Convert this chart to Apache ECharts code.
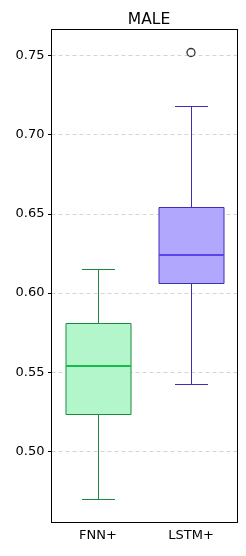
<!DOCTYPE html>
<html><head><meta charset="utf-8">
<script src="https://cdn.jsdelivr.net/npm/echarts@6/dist/echarts.min.js"></script>
<style>html,body{margin:0;padding:0;background:#fff}#c{width:246px;height:556px}</style>
</head><body><div id="c"></div>
<script>
const categories = ['FNN+', 'LSTM+'];
const whiskerLow = [0.4695, 0.5425];
const q1 = [0.5232, 0.6063];
const median = [0.5540, 0.6240];
const q3 = [0.5806, 0.6537];
const whiskerHigh = [0.6151, 0.7178];
const outliers = [[1, 0.7517]];
const yTicks = [0.50, 0.55, 0.60, 0.65, 0.70, 0.75];
const fills = ['#b4f6cc', '#b1a7fd'];
const edges = ['#1b8a3c', '#3b2fb3'];
const medians = ['#1dba4b', '#5846e6'];

const boxData = categories.map((c, i) => [i, whiskerLow[i], q1[i], median[i], q3[i], whiskerHigh[i]]);
const font = 'DejaVu Sans';
const snap = v => Math.floor(v) + 0.5;
const chart = echarts.init(document.getElementById('c'));
chart.setOption({
  animation: false,
  title: { text: 'MALE', left: 144, top: 7, textAlign: 'center',
    textStyle: { fontFamily: font, fontSize: 15.5, fontWeight: 'normal', color: '#000' } },
  grid: { left: 51.5, right: 8.5, top: 29.5, bottom: 34 },
  xAxis: [{
    type: 'category', data: categories, boundaryGap: true,
    axisLine: { lineStyle: { color: '#000', width: 1 } },
    axisTick: { alignWithLabel: true, length: 3.5, lineStyle: { color: '#000' } },
    axisLabel: { fontFamily: font, fontSize: 13, color: '#000', margin: 7 },
    splitLine: { show: false }
  }, {
    type: 'category', data: categories, position: 'top',
    axisLine: { lineStyle: { color: '#000', width: 1 } },
    axisTick: { show: false }, axisLabel: { show: false }
  }],
  yAxis: [{
    type: 'value', min: 0.4556, max: 0.7662,
    axisLine: { show: true, lineStyle: { color: '#000', width: 1 } },
    axisTick: { show: true, length: 3.5, customValues: yTicks, lineStyle: { color: '#000' } },
    axisLabel: { customValues: yTicks, fontFamily: font, fontSize: 13, color: '#000', margin: 7,
      formatter: v => v.toFixed(2) },
    splitLine: { show: true, lineStyle: { color: '#c8c8c8', type: [4, 3], width: 0.8 } }
  }, {
    type: 'value', min: 0.4556, max: 0.7662, position: 'right',
    axisLine: { show: true, lineStyle: { color: '#000', width: 1 } },
    axisTick: { show: false }, axisLabel: { show: false }, splitLine: { show: false }
  }],
  series: [{
    type: 'custom',
    data: boxData,
    encode: { x: 0, y: [1, 2, 3, 4, 5] },
    renderItem: function (params, api) {
      const i = api.value(0);
      const band = api.size([1, 0])[0];
      const bw = Math.round(band * 0.7), cw = Math.round(bw * 0.5);
      const x = snap(api.coord([i, api.value(1)])[0]);
      const yLo = snap(api.coord([i, api.value(1)])[1]);
      const yQ1 = snap(api.coord([i, api.value(2)])[1]);
      const yMed = Math.round(api.coord([i, api.value(3)])[1]);
      const yQ3 = snap(api.coord([i, api.value(4)])[1]);
      const yHi = snap(api.coord([i, api.value(5)])[1]);
      const ec = edges[i];
      const ls = { stroke: ec, lineWidth: 1 };
      const bx = x - bw / 2;
      return { type: 'group', children: [
        { type: 'line', shape: { x1: x, y1: yLo, x2: x, y2: yQ1 }, style: ls },
        { type: 'line', shape: { x1: x, y1: yQ3, x2: x, y2: yHi }, style: ls },
        { type: 'line', shape: { x1: x - cw / 2, y1: yLo, x2: x + cw / 2, y2: yLo }, style: ls },
        { type: 'line', shape: { x1: x - cw / 2, y1: yHi, x2: x + cw / 2, y2: yHi }, style: ls },
        { type: 'rect', shape: { x: bx, y: yQ3, width: bw, height: yQ1 - yQ3 },
          style: { fill: fills[i], stroke: ec, lineWidth: 1 } },
        { type: 'line', shape: { x1: bx, y1: yMed, x2: bx + bw, y2: yMed },
          style: { stroke: medians[i], lineWidth: 2 } }
      ]};
    }
  }, {
    type: 'scatter', data: outliers, symbol: 'circle', symbolSize: 8,
    itemStyle: { color: '#fff', borderColor: '#000', borderWidth: 1.3 }
  }]
});
</script></body></html>
